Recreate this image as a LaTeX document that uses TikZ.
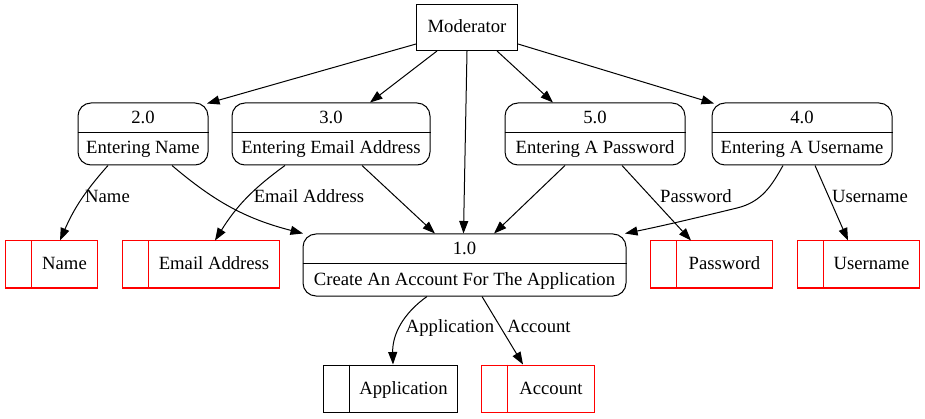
\documentclass[tikz,border=0pt]{standalone}
\usepackage{fontspec}
\setmainfont{Liberation Serif}
\usetikzlibrary{arrows.meta,calc}
\tikzset{
  proc/.style={draw, line width=1pt, rounded corners=13pt, inner sep=0pt, minimum height=62pt},
  store/.style={draw, line width=1pt, inner sep=0pt, minimum height=47pt},
  plainbox/.style={draw, line width=1pt, inner sep=0pt, minimum width=101pt, minimum height=46pt},
  lbl/.style={inner sep=0pt, text height=13pt, text depth=4pt},
  flow/.style={line width=1pt, -{Triangle[length=12.5pt,width=9pt]}},
}
\newcommand\procbox[6]{%
  \node[proc, minimum width=#4pt] (#1) at (#2,#3+31) {};
  \draw[line width=1pt] ($(#1.north west)+(0,30)$) -- ($(#1.north east)+(0,30)$);
  \node[lbl] (#1-num) at (#2,#3+15.8) {#5};
  \node[lbl] (#1-txt) at (#2,#3+46.5) {#6};
}
\newcommand\storebox[6]{%
  \node[store, draw=#1, minimum width=#4pt] (#2) at (#3+#4/2,#5+23.5) {};
  \draw[#1, line width=1pt] ($(#2.north west)+(27,0)$) -- ($(#2.south west)+(27,0)$);
  \node[lbl] (#2-txt) at (#3+13.5+#4/2,#5+24.5) {#6};
}
\begin{document}
\begin{tikzpicture}[x=1pt,y=-1pt,font=\fontsize{18.67pt}{22pt}\selectfont]
\useasboundingbox (0,0) rectangle (925,419);
% external entity
\node[plainbox] (mod) at (467,27.5) {};
\node[lbl] (mod-txt) at (467,28.5) {Moderator};
% processes
\procbox{p2}{143}{103}{130}{2.0}{Entering Name}
\procbox{p3}{331}{103}{198}{3.0}{Entering Email Address}
\procbox{p5}{595}{103}{180}{5.0}{Entering A Password}
\procbox{p4}{802}{103}{180}{4.0}{Entering A Username}
\procbox{p1}{464.5}{234}{323}{1.0}{Create An Account For The Application}
% data stores
\storebox{red}{sname}{5}{92}{241}{Name}
\storebox{red}{semail}{122}{157}{241}{Email Address}
\storebox{red}{spass}{650}{122}{241}{Password}
\storebox{red}{suser}{797}{122}{241}{Username}
\storebox{black}{sapp}{323}{134}{365}{Application}
\storebox{red}{sacc}{481}{113}{365}{Account}
% flows from moderator
\draw[flow] ($(mod.west)+(0,16.5)$) -- ($(p2.north)+(64,1)$);
\draw[flow] ($(mod.south)+(-30,0)$) -- ($(p3.north)+(39,0)$);
\draw[flow] (mod.south) -- ($(p1.north)+(-1,0)$);
\draw[flow] ($(mod.south)+(30,0)$) -- ($(p5.north)+(-42,0)$);
\draw[flow] ($(mod.east)+(0,16.5)$) -- ($(p4.north)+(-88,1)$);
% flows from processes
\draw[flow] ($(p2.south)+(-35,0)$) to[bend right=9] ($(sname.north)+(9,0)$);
\draw[flow] ($(p2.south)+(29,0)$) to[bend right=13] ($(p1.north)+(-161.5,0)$);
\draw[flow] ($(p3.south)+(-46,0)$) to[bend right=11] ($(semail.north)+(14.5,0)$);
\draw[flow] ($(p3.south)+(31,0)$) -- ($(p1.north)+(-29.5,0)$);
\draw[flow] ($(p5.south)+(-30,0)$) -- ($(p1.north)+(29.5,0)$);
\draw[flow] ($(p5.south)+(27,0)$) -- ($(spass.north)+(-20,0)$);
\draw[flow] ($(p4.south)+(-19,0)$) .. controls (772,185) and (762,202) .. (737,208) .. controls (700,217) and (662,226) .. ($(p1.north)+(160.5,0)$);
\draw[flow] ($(p4.south)+(13,0)$) -- ($(suser.north)+(-10,0)$);
\draw[flow] ($(p1.south)+(-37.5,0)$) to[bend right=28] ($(sapp.north)+(3,0)$);
\draw[flow] ($(p1.south)+(17.5,0)$) -- ($(sacc.north)+(-14.5,0)$);
% flow labels
\node[lbl] (l-name) at (107.5,198) {Name};
\node[lbl] (l-email) at (309,198) {Email Address};
\node[lbl] (l-pass) at (696,198) {Password};
\node[lbl] (l-user) at (870,198) {Username};
\node[lbl] (l-app) at (450,328) {Application};
\node[lbl] (l-acc) at (539,328) {Account};
\end{tikzpicture}
\end{document}
